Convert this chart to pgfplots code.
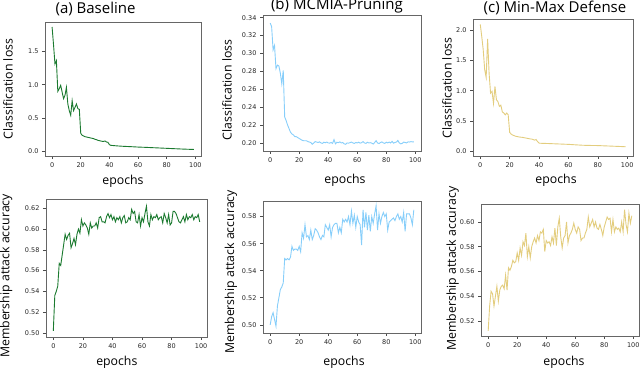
\documentclass[border=0pt]{standalone}
\usepackage{fontspec}
\setmainfont{Open Sans}
\newfontfamily\tickfont{DejaVu Sans}
\usepackage{pgfplots}
\pgfplotsset{compat=1.18}

\definecolor{cgreen}{HTML}{1B7A2F}
\definecolor{cblue}{HTML}{87CEFA}
\definecolor{cyel}{HTML}{E3CD7E}

\pgfplotsset{
  panel/.style={
    scale only axis,
    anchor=south west,
    axis line style={black!60, line width=0.8pt},
    tick align=outside,
    major tick length=3pt,
    tick style={black!70, line width=0.6pt},
    xtick pos=bottom, ytick pos=left,
    tick label style={font=\tickfont\fontsize{6.5}{7}\selectfont, text=black!85},
    /pgf/number format/assume math mode=true,
    label style={font=\fontsize{12.3}{14}\selectfont},
    every axis title/.style={at={(0.5,1)}, anchor=center, font=\fontsize{15}{18}\selectfont},
    xmin=-4.95, xmax=103.95,
    xtick={0,20,40,60,80,100},
    xlabel={epochs},
    every axis plot/.append style={line width=0.9pt, mark=none},
  },
}

\begin{document}
\begin{tikzpicture}
\path[use as bounding box] (0,0) rectangle (640pt,369pt);

% (a) top
\begin{axis}[panel, at={(45pt,213pt)}, width=156pt, height=134pt,
  ymin=-0.07, ymax=1.94, ytick={0,0.5,1,1.5},
  yticklabel style={/pgf/number format/.cd, fixed, fixed zerofill, precision=1},
  title={(a) Baseline}, title style={at={(axis description cs:0.324,1.097)}},
  xlabel style={at={(axis description cs:0.5,-0.187)}, anchor=center},
  ylabel={Classification loss}, ylabel style={at={(axis description cs:-0.237,0.5)}, anchor=center}]
\addplot[cgreen] coordinates {
(0,1.865)(1,1.60)(2,1.31)(3,1.36)(4,0.90)(5,0.94)(6,0.99)(7,0.89)(8,0.79)(9,0.84)
(10,0.96)(11,0.71)(12,0.61)(13,0.54)(14,0.76)(15,0.61)(16,0.66)(17,0.71)(18,0.64)(19,0.63)
(20,0.27)(21,0.24)(22,0.23)(23,0.22)(24,0.215)(25,0.21)(26,0.205)(27,0.20)(28,0.195)(29,0.19)
(30,0.18)(31,0.175)(32,0.165)(33,0.16)(34,0.155)(35,0.15)(36,0.15)(37,0.155)(38,0.14)(39,0.135)
(40,0.10)(41,0.09)(42,0.088)(43,0.086)(44,0.084)(45,0.082)(50,0.075)(55,0.07)(60,0.064)
(65,0.06)(70,0.055)(75,0.05)(80,0.045)(85,0.04)(90,0.035)(95,0.031)(99,0.028)};
\end{axis}

% (b) top
\begin{axis}[panel, at={(263pt,218pt)}, width=158pt, height=136pt,
  ymin=0.191, ymax=0.343, ytick={0.20,0.22,...,0.34},
  yticklabel style={/pgf/number format/.cd, fixed, fixed zerofill, precision=2},
  title={(b) MCMIA-Pruning}, title style={at={(axis description cs:0.468,1.066)}},
  xlabel style={at={(axis description cs:0.519,-0.213)}, anchor=center},
  ylabel={Classification loss}, ylabel style={at={(axis description cs:-0.228,0.449)}, anchor=center}]
\addplot[cblue] coordinates {
(0,0.334)(1,0.330)(2,0.304)(3,0.309)(4,0.283)(5,0.287)(6,0.286)(7,0.278)(8,0.266)(9,0.281)
(10,0.229)(11,0.225)(12,0.220)(13,0.216)(14,0.212)(15,0.210)(16,0.209)(17,0.207)(18,0.207)(19,0.206)
(20,0.205)(21,0.204)(22,0.203)(23,0.2025)(24,0.2025)(25,0.2025)(26,0.2015)(27,0.2010)(28,0.2005)(29,0.1985)
(30,0.2000)(31,0.2015)(32,0.2010)(33,0.2005)(34,0.2012)(35,0.2000)(36,0.1995)(37,0.2008)(38,0.2002)(39,0.2010)
(40,0.2000)(41,0.1998)(42,0.2005)(43,0.1995)(44,0.2037)(45,0.1990)(46,0.2008)(47,0.2003)(48,0.2012)(49,0.2000)
(50,0.2005)(51,0.1990)(52,0.1985)(53,0.2000)(54,0.1998)(55,0.2003)(56,0.2010)(57,0.2000)(58,0.1995)(59,0.2005)
(60,0.2000)(61,0.2008)(62,0.1998)(63,0.2003)(64,0.2015)(65,0.2000)(66,0.1995)(67,0.2008)(68,0.2000)(69,0.2003)
(70,0.1998)(71,0.1988)(72,0.2005)(73,0.2025)(74,0.2000)(75,0.1993)(76,0.2005)(77,0.2012)(78,0.2000)(79,0.1995)
(80,0.2008)(81,0.2000)(82,0.2010)(83,0.2000)(84,0.2018)(85,0.1998)(86,0.2005)(87,0.2010)(88,0.2028)(89,0.2000)
(90,0.1990)(91,0.1995)(92,0.2010)(93,0.2005)(94,0.2000)(95,0.2012)(96,0.2010)(97,0.2015)(98,0.2012)(99,0.2012)};
\end{axis}

% (c) top
\begin{axis}[panel, at={(473pt,213pt)}, width=160pt, height=137pt,
  ymin=-0.083, ymax=2.19, ytick={0,0.5,1,1.5,2},
  yticklabel style={/pgf/number format/.cd, fixed, fixed zerofill, precision=1},
  title={(c) Min-Max Defense}, title style={at={(axis description cs:0.5125,1.08)}},
  xlabel style={at={(axis description cs:0.519,-0.175)}, anchor=center},
  ylabel={Classification loss}, ylabel style={at={(axis description cs:-0.1625,0.496)}, anchor=center}]
\addplot[cyel] coordinates {
(0,2.10)(1,1.90)(2,1.68)(3,1.35)(4,1.22)(5,1.86)(6,1.29)(7,0.96)(8,0.99)(9,0.79)
(10,1.07)(11,0.85)(12,0.82)(13,0.74)(14,0.76)(15,0.65)(16,0.63)(17,0.60)(18,0.63)(19,0.60)
(20,0.31)(21,0.28)(22,0.265)(23,0.255)(24,0.245)(25,0.24)(26,0.235)(27,0.23)(28,0.228)(29,0.225)
(30,0.22)(31,0.215)(32,0.21)(33,0.205)(34,0.20)(35,0.198)(36,0.19)(37,0.18)(38,0.19)(39,0.155)
(40,0.13)(42,0.127)(45,0.125)(50,0.12)(55,0.115)(60,0.11)(65,0.102)(70,0.095)(75,0.092)
(80,0.09)(85,0.085)(90,0.08)(95,0.075)(99,0.07)};
\end{axis}

% (a) bottom
\begin{axis}[panel, at={(46pt,32pt)}, width=161pt, height=138pt,
  ymin=0.496, ymax=0.629, ytick={0.50,0.52,...,0.62},
  yticklabel style={/pgf/number format/.cd, fixed, fixed zerofill, precision=2},
  xlabel style={at={(axis description cs:0.44,-0.181)}, anchor=center},
  ylabel={Membership attack accuracy}, ylabel style={at={(axis description cs:-0.248,0.442)}, anchor=center}]
\addplot[cgreen] coordinates {
(0,0.502)(1,0.536)(2,0.540)(3,0.545)(4,0.567)(5,0.565)(6,0.575)(7,0.585)(8,0.595)(9,0.590)
(10,0.594)(11,0.596)(12,0.582)(13,0.586)(14,0.591)(15,0.585)(16,0.595)(17,0.600)(18,0.596)(19,0.609)
(20,0.603)(21,0.606)(22,0.604)(23,0.601)(24,0.595)(25,0.606)(26,0.601)(27,0.603)(28,0.603)(29,0.606)
(30,0.601)(31,0.611)(32,0.612)(33,0.607)(34,0.607)(35,0.606)(36,0.612)(37,0.615)(38,0.611)(39,0.614)
(40,0.609)(41,0.612)(42,0.607)(43,0.611)(44,0.609)(45,0.612)(46,0.606)(47,0.611)(48,0.613)(49,0.606)
(50,0.607)(51,0.611)(52,0.609)(53,0.619)(54,0.615)(55,0.617)(56,0.607)(57,0.606)(58,0.614)(59,0.603)
(60,0.611)(61,0.607)(62,0.615)(63,0.622)(64,0.607)(65,0.603)(66,0.614)(67,0.609)(68,0.612)(69,0.611)
(70,0.614)(71,0.609)(72,0.611)(73,0.612)(74,0.606)(75,0.615)(76,0.611)(77,0.606)(78,0.614)(79,0.604)
(80,0.606)(81,0.617)(82,0.617)(83,0.615)(84,0.611)(85,0.607)(86,0.606)(87,0.609)(88,0.612)(89,0.607)
(90,0.614)(91,0.609)(92,0.612)(93,0.611)(94,0.614)(95,0.609)(96,0.612)(97,0.611)(98,0.614)(99,0.607)};
\end{axis}

% (b) bottom
\begin{axis}[panel, at={(263pt,36pt)}, width=158pt, height=132pt,
  ymin=0.494, ymax=0.5915, ytick={0.50,0.52,...,0.58},
  yticklabel style={/pgf/number format/.cd, fixed, fixed zerofill, precision=2},
  xlabel style={at={(axis description cs:0.513,-0.22)}, anchor=center},
  ylabel={Membership attack accuracy}, ylabel style={at={(axis description cs:-0.2025,0.462)}, anchor=center}]
\addplot[cblue] coordinates {
(0,0.500)(1,0.506)(2,0.509)(3,0.504)(4,0.499)(5,0.514)(6,0.520)(7,0.526)(8,0.528)(9,0.531)
(10,0.549)(11,0.548)(12,0.549)(13,0.548)(14,0.550)(15,0.558)(16,0.555)(17,0.556)(18,0.556)(19,0.555)
(20,0.558)(21,0.554)(22,0.568)(23,0.564)(24,0.574)(25,0.565)(26,0.566)(27,0.563)(28,0.570)(29,0.563)
(30,0.566)(31,0.571)(32,0.570)(33,0.568)(34,0.565)(35,0.563)(36,0.566)(37,0.565)(38,0.574)(39,0.572)
(40,0.570)(41,0.574)(42,0.565)(43,0.572)(44,0.574)(45,0.575)(46,0.575)(47,0.568)(48,0.572)(49,0.568)
(50,0.578)(51,0.576)(52,0.578)(53,0.576)(54,0.580)(55,0.574)(56,0.584)(57,0.575)(58,0.581)(59,0.572)
(60,0.580)(61,0.576)(62,0.574)(63,0.559)(64,0.585)(65,0.572)(66,0.583)(67,0.570)(68,0.581)(69,0.569)
(70,0.580)(71,0.575)(72,0.582)(73,0.588)(74,0.570)(75,0.582)(76,0.575)(77,0.580)(78,0.583)(79,0.580)
(80,0.582)(81,0.570)(82,0.576)(83,0.577)(84,0.578)(85,0.579)(86,0.577)(87,0.580)(88,0.582)(89,0.578)
(90,0.580)(91,0.576)(92,0.583)(93,0.569)(94,0.582)(95,0.582)(96,0.582)(97,0.579)(98,0.574)(99,0.585)};
\end{axis}

% (c) bottom
\begin{axis}[panel, at={(481pt,33pt)}, width=158pt, height=132pt,
  ymin=0.5079, ymax=0.6145, ytick={0.52,0.54,...,0.60},
  yticklabel style={/pgf/number format/.cd, fixed, fixed zerofill, precision=2},
  xlabel style={at={(axis description cs:0.525,-0.197)}, anchor=center},
  ylabel={Membership attack accuracy}, ylabel style={at={(axis description cs:-0.18,0.51)}, anchor=center}]
\addplot[cyel] coordinates {
(0,0.512)(1,0.532)(2,0.544)(3,0.542)(4,0.532)(5,0.540)(6,0.548)(7,0.536)(8,0.545)(9,0.548)
(10,0.549)(11,0.546)(12,0.557)(13,0.545)(14,0.563)(15,0.561)(16,0.564)(17,0.569)(18,0.567)(19,0.568)
(20,0.575)(21,0.569)(22,0.579)(23,0.573)(24,0.584)(25,0.581)(26,0.591)(27,0.572)(28,0.580)(29,0.571)
(30,0.580)(31,0.584)(32,0.587)(33,0.583)(34,0.589)(35,0.585)(36,0.592)(37,0.591)(38,0.594)(39,0.576)
(40,0.585)(41,0.583)(42,0.584)(43,0.581)(44,0.588)(45,0.583)(46,0.595)(47,0.581)(48,0.596)(49,0.603)
(50,0.588)(51,0.579)(52,0.587)(53,0.589)(54,0.600)(55,0.583)(56,0.589)(57,0.591)(58,0.594)(59,0.599)
(60,0.594)(61,0.591)(62,0.596)(63,0.594)(64,0.585)(65,0.587)(66,0.587)(67,0.591)(68,0.594)(69,0.604)
(70,0.596)(71,0.599)(72,0.602)(73,0.596)(74,0.600)(75,0.595)(76,0.594)(77,0.598)(78,0.594)(79,0.589)
(80,0.596)(81,0.600)(82,0.604)(83,0.602)(84,0.603)(85,0.592)(86,0.602)(87,0.592)(88,0.596)(89,0.594)
(90,0.595)(91,0.592)(92,0.600)(93,0.592)(94,0.610)(95,0.598)(96,0.592)(97,0.607)(98,0.599)(99,0.605)};
\end{axis}
\end{tikzpicture}
\end{document}
